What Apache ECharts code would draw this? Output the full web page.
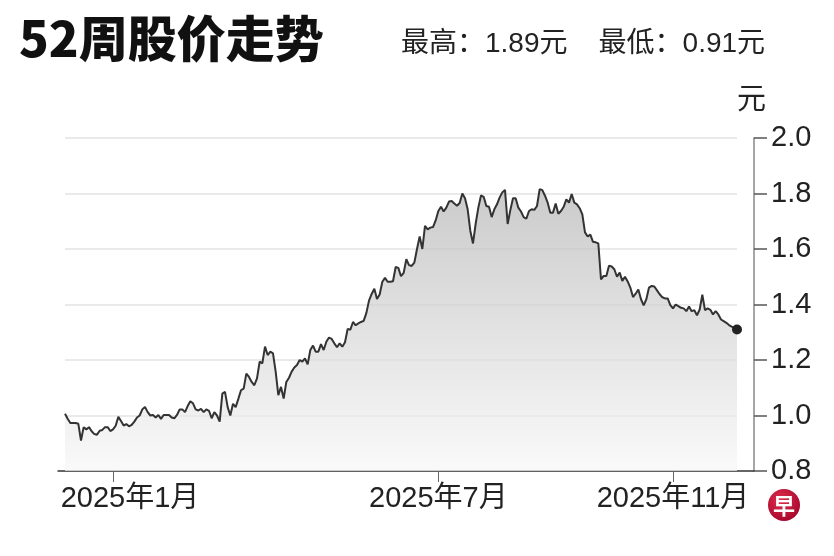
<!DOCTYPE html>
<html lang="zh">
<head>
  <meta charset="UTF-8">
  <title>52周股价走势</title>
  <script src="https://cdn.jsdelivr.net/npm/echarts@6/dist/echarts.min.js"></script>
  <style>
    * {
      margin: 0;
      padding: 0
    }

    html, body {
      width: 100%;
      height: 100%;
      background: #fff;
    }

    #main {
      width: 834px;
      height: 556px;
    }
  </style>
</head>
<body>
  <div id="main"></div>
</body>
<script type="text/javascript">
  // 交易日：2024-12-05 至 2025-12-05，去掉周末和新交所假期
  var startDay = '2024-12-05';
  var endDay = '2025-12-05';
  var holidays = ['2024-12-25', '2025-01-01', '2025-01-29', '2025-01-30', '2025-03-31',
    '2025-04-18', '2025-05-01', '2025-05-12', '2025-10-20'];

  // 收盘价（元）
  var prices = [
    1.006, 0.988, 0.973, 0.973, 0.973, 0.970, 0.910, 0.958, 0.950, 0.958,
    0.943, 0.933, 0.931, 0.945, 0.948, 0.958, 0.958, 0.944, 0.950, 0.963,
    0.995, 0.980, 0.964, 0.969, 0.961, 0.966, 0.978, 0.993, 1.000, 1.022,
    1.031, 1.012, 1.000, 1.002, 0.993, 1.002, 0.988, 1.002, 1.002, 1.002,
    0.993, 0.990, 1.002, 1.022, 1.022, 1.012, 1.034, 1.051, 1.044, 1.022,
    1.018, 1.024, 1.012, 1.022, 1.017, 0.990, 1.012, 1.000, 0.978, 1.079,
    1.085, 1.030, 1.000, 1.042, 1.030, 1.060, 1.091, 1.097, 1.151, 1.139,
    1.121, 1.109, 1.134, 1.194, 1.188, 1.248, 1.218, 1.230, 1.224, 1.158,
    1.073, 1.103, 1.061, 1.121, 1.136, 1.158, 1.173, 1.182, 1.200, 1.194,
    1.206, 1.184, 1.236, 1.252, 1.230, 1.230, 1.257, 1.236, 1.266, 1.281,
    1.276, 1.260, 1.246, 1.260, 1.248, 1.264, 1.312, 1.309, 1.337, 1.325,
    1.332, 1.337, 1.341, 1.369, 1.414, 1.438, 1.457, 1.420, 1.436, 1.482,
    1.496, 1.482, 1.482, 1.484, 1.535, 1.532, 1.502, 1.514, 1.563, 1.542,
    1.539, 1.551, 1.600, 1.645, 1.600, 1.683, 1.671, 1.677, 1.679, 1.703,
    1.737, 1.752, 1.735, 1.749, 1.771, 1.773, 1.764, 1.756, 1.766, 1.800,
    1.783, 1.743, 1.665, 1.620, 1.691, 1.749, 1.793, 1.788, 1.755, 1.752,
    1.715, 1.743, 1.761, 1.786, 1.804, 1.813, 1.690, 1.740, 1.783, 1.783,
    1.749, 1.735, 1.715, 1.709, 1.737, 1.743, 1.741, 1.755, 1.816, 1.812,
    1.792, 1.767, 1.731, 1.731, 1.764, 1.727, 1.737, 1.752, 1.779, 1.767,
    1.798, 1.767, 1.761, 1.747, 1.725, 1.660, 1.645, 1.652, 1.626, 1.624,
    1.620, 1.490, 1.503, 1.503, 1.540, 1.537, 1.527, 1.500, 1.515, 1.485,
    1.500, 1.483, 1.461, 1.427, 1.439, 1.454, 1.419, 1.397, 1.419, 1.461,
    1.467, 1.465, 1.451, 1.437, 1.426, 1.422, 1.422, 1.398, 1.386, 1.400,
    1.394, 1.388, 1.386, 1.376, 1.393, 1.376, 1.379, 1.361, 1.382, 1.435,
    1.380, 1.386, 1.381, 1.364, 1.376, 1.364, 1.346, 1.340, 1.334, 1.326,
    1.320, 1.316, 1.310
  ];

  var labelMonths = ['2025-01', '2025-07', '2025-11'];
  var yMin = 0.8, yMax = 2.0, yStep = 0.2;
  var high52 = '1.89', low52 = '0.91';

  function tradingDays(from, to, skip) {
    var out = [];
    var d = new Date(from + 'T00:00:00Z');
    var end = new Date(to + 'T00:00:00Z');
    while (d <= end) {
      var s = d.toISOString().slice(0, 10);
      var wd = d.getUTCDay();
      if (wd !== 0 && wd !== 6 && skip.indexOf(s) < 0) out.push(s);
      d.setUTCDate(d.getUTCDate() + 1);
    }
    return out;
  }

  var dates = tradingDays(startDay, endDay, holidays);

  // 每个标注月份的第一个交易日
  var labelIdx = {};
  dates.forEach(function (s, i) {
    var m = s.slice(0, 7);
    if (labelMonths.indexOf(m) >= 0 && (i === 0 || dates[i - 1].slice(0, 7) !== m)) {
      labelIdx[i] = m;
    }
  });
  var firstLabel = Math.min.apply(null, Object.keys(labelIdx).map(Number));

  var lastIdx = prices.length - 1;
  var font = "'Liberation Sans', 'Noto Sans CJK SC', sans-serif";

  var chart = echarts.init(document.getElementById('main'));
  chart.setOption({
    animation: false,
    backgroundColor: '#fff',
    title: [{
      text: '52周股价走势',
      left: 14,
      top: 9,
      textStyle: {fontSize: 49, fontWeight: 900, color: '#111', fontFamily: "'Noto Sans CJK SC', sans-serif"}
    }, {
      text: '最高：' + high52 + '元    最低：' + low52 + '元',
      left: 396,
      top: 25,
      textStyle: {fontSize: 28, fontWeight: 'normal', color: '#222', fontFamily: font}
    }],
    grid: [
      // 折线区域
      {left: 65, right: 97, top: 138, bottom: 85},
      // 坐标轴（比折线区域略宽）
      {left: 58, right: 80, top: 138, bottom: 85}
    ],
    xAxis: [{
      type: 'category',
      gridIndex: 0,
      data: dates,
      boundaryGap: false,
      axisLine: {show: false},
      axisTick: {
        show: true,
        length: 11,
        interval: function (i) { return labelIdx[i] !== undefined; },
        lineStyle: {color: '#666', width: 1}
      },
      axisLabel: {
        interval: function (i) { return labelIdx[i] !== undefined; },
        margin: 13,
        fontSize: 29,
        color: '#222',
        fontFamily: font,
        formatter: function (v, i) {
          var txt = v.slice(0, 4) + '年' + (+v.slice(5, 7)) + '月';
          return i === firstLabel ? '{s|' + txt + '}' : txt;
        },
        rich: {
          s: {fontSize: 29, color: '#222', fontFamily: font, padding: [0, 0, 0, 34]}
        }
      },
      splitLine: {show: false}
    }, {
      type: 'category',
      gridIndex: 1,
      data: ['', ''],
      axisLine: {show: true, lineStyle: {color: '#333', width: 1.5}},
      axisTick: {show: false},
      axisLabel: {show: false},
      splitLine: {show: false}
    }],
    yAxis: [{
      type: 'value',
      gridIndex: 0,
      min: yMin,
      max: yMax,
      interval: yStep,
      position: 'right',
      name: '元',
      nameLocation: 'end',
      nameGap: 22,
      nameTextStyle: {fontSize: 29, color: '#222', fontFamily: font, align: 'left', padding: [0, 0, 0, 0]},
      axisLine: {show: false},
      axisTick: {show: false},
      axisLabel: {show: false},
      splitLine: {show: true, lineStyle: {color: '#e3e3e3', width: 1.5}}
    }, {
      type: 'value',
      gridIndex: 1,
      position: 'right',
      min: yMin,
      max: yMax,
      interval: yStep,
      axisLine: {show: true, lineStyle: {color: '#888', width: 1.5}},
      axisTick: {show: true, length: 13, lineStyle: {color: '#555', width: 1.5}},
      axisLabel: {
        margin: 17,
        fontSize: 29,
        color: '#222',
        fontFamily: font,
        formatter: function (v) { return v.toFixed(1); }
      },
      splitLine: {show: false}
    }],
    series: [{
      type: 'line',
      xAxisIndex: 0,
      yAxisIndex: 0,
      data: prices,
      showAllSymbol: true,
      symbol: 'circle',
      symbolSize: function (v, p) { return p.dataIndex === lastIdx ? 10 : 0; },
      itemStyle: {color: '#222'},
      lineStyle: {color: '#333', width: 2},
      areaStyle: {
        color: new echarts.graphic.LinearGradient(0, 0, 0, 1, [
          {offset: 0, color: '#b5b5b5'},
          {offset: 1, color: '#f7f7f7'}
        ])
      },
      z: 3
    }],
    graphic: [{
      type: 'group',
      right: 34,
      bottom: 35,
      children: [{
        type: 'circle',
        shape: {cx: 16, cy: 16, r: 16},
        style: {
          fill: new echarts.graphic.RadialGradient(0.4, 0.35, 0.7, [
            {offset: 0, color: '#e0304f'},
            {offset: 1, color: '#a5062a'}
          ])
        }
      }, {
        type: 'text',
        x: 16,
        y: 17,
        style: {
          text: '早',
          fill: '#fff',
          fontSize: 22,
          fontWeight: 'bold',
          fontFamily: "'Noto Sans CJK SC', sans-serif",
          align: 'center',
          verticalAlign: 'middle'
        }
      }]
    }]
  });
</script>
</html>
